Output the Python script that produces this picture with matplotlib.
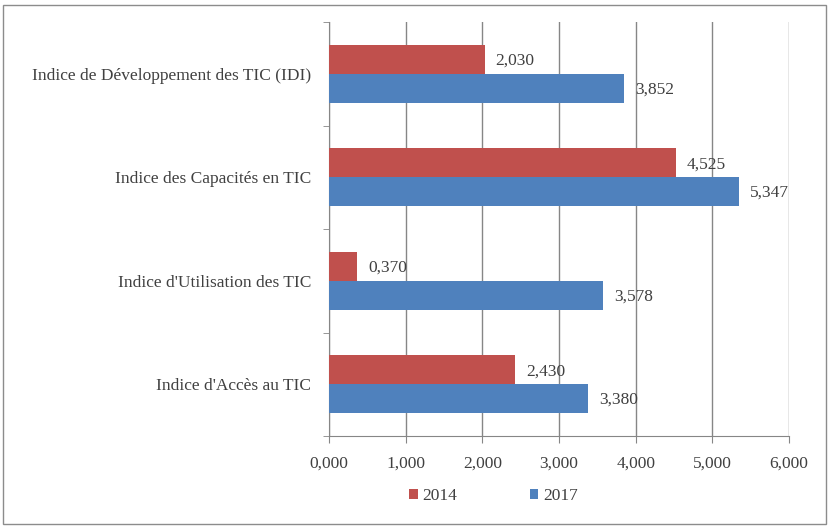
import matplotlib
matplotlib.use("Agg")
import matplotlib.pyplot as plt
from matplotlib.patches import Rectangle
import numpy as np

plt.rcParams["font.family"] = ["Liberation Serif", "DejaVu Serif"]

# categories from bottom to top, as drawn
categories = ["Indice d'Accès au TIC", "Indice d'Utilisation des TIC",
              "Indice des Capacités en TIC", "Indice de Développement des TIC (IDI)"]
values_2014 = [2.430, 0.370, 4.525, 2.030]
values_2017 = [3.380, 3.578, 5.347, 3.852]
series_names = ["2014", "2017"]
x_ticks = [0, 1, 2, 3, 4, 5, 6]

RED = "#C0504D"
BLUE = "#4F81BD"
GRID = "#868686"
TXT = "#404040"
FS = 12.5


def fr(v):
    return f"{v:.3f}".replace(".", ",")


fig = plt.figure(figsize=(8.29, 5.27), dpi=100)
fig.patches.append(Rectangle((3 / 829, 3 / 527), 823 / 829, 519 / 527,
                             transform=fig.transFigure, fill=False,
                             edgecolor="#8c8c8c", linewidth=1.0))
ax = fig.add_axes([329 / 829, 1 - 436 / 527, 460 / 829, 414 / 527])

y = np.arange(len(categories))
h = 0.28
b14 = ax.barh(y + h / 2, values_2014, height=h, color=RED, label=series_names[0], zorder=3)
b17 = ax.barh(y - h / 2, values_2017, height=h, color=BLUE, label=series_names[1], zorder=3)

for bars, vals in ((b14, values_2014), (b17, values_2017)):
    for bar, v in zip(bars, vals):
        ax.annotate(fr(v), (v, bar.get_y() + bar.get_height() / 2),
                    xytext=(8, -1), textcoords="offset points",
                    va="center", ha="left", fontsize=FS, color=TXT, zorder=4)

ax.set_xlim(0, 6)
ax.set_ylim(-0.5, len(categories) - 0.5)
ax.set_xticks(x_ticks)
ax.set_xticklabels([fr(t) for t in x_ticks], fontsize=FS, color=TXT)
ax.xaxis.grid(True, color=GRID, linewidth=1.0, zorder=0)
ax.set_axisbelow(True)

ax.set_yticks(y)
ax.set_yticklabels(categories, fontsize=FS, color=TXT)
ax.tick_params(axis="y", which="major", length=0, pad=13)
ax.set_yticks(np.arange(-0.5, len(categories)), minor=True)
ax.tick_params(axis="y", which="minor", length=4, color=GRID, direction="out")
ax.tick_params(axis="x", length=5, color=GRID, direction="out", pad=9)

for side in ("top", "right"):
    ax.spines[side].set_visible(False)
for side in ("left", "bottom"):
    ax.spines[side].set_color(GRID)

ax.legend(loc="upper center", bbox_to_anchor=(0.357, -0.088), ncol=2, frameon=False,
          fontsize=FS, handlelength=0.5, handleheight=0.5, columnspacing=4.2,
          handletextpad=0.25, labelcolor=TXT)

fig.savefig("out.png", dpi=100)
